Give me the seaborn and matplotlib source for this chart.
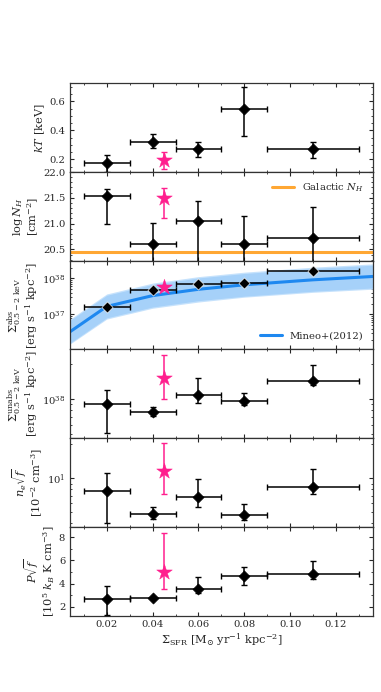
import numpy as np
import pandas as pd
import matplotlib
matplotlib.use("Agg")
import matplotlib.pyplot as plt
from matplotlib.ticker import NullFormatter, AutoMinorLocator
import seaborn as sns

# ── Data ──────────────────────────────────────
sfr = [0.02, 0.04, 0.06, 0.08, 0.11]
sfr_err = [0.01, 0.01, 0.01, 0.01, 0.02]
star_sfr = [0.045]

kT = [0.172, 0.32, 0.27, 0.55, 0.27]
kT_lo = [0.06, 0.04, 0.055, 0.19, 0.06]
kT_hi = [0.058, 0.052, 0.047, 0.15, 0.05]
star_kT, star_kT_lo, star_kT_hi = [0.195], [0.06], [0.057]

logNH = [21.54, 20.60, 21.05, 20.60, 20.73]
logNH_lo = [0.54, 0.5, 0.8, 0.5, 0.6]
logNH_hi = [0.13, 0.41, 0.38, 0.54, 0.60]
star_NH, star_NH_lo, star_NH_hi = [21.5], [0.40], [0.19]
galactic_NH = 20.44

sig_abs = [1.63e37, 4.7e37, 7.2e37, 7.5e37, 1.56e38]
star_abs = [5.8e37]

mineo_x = [0.004, 0.02, 0.04, 0.06, 0.08, 0.11, 0.136]
mineo_y = [3.3e36, 1.66e37, 3.32e37, 4.98e37, 6.64e37, 9.13e37, 1.13e38]
mineo_up_out = [7.4e36, 3.7e37, 7.4e37, 1.12e38, 1.49e38, 2.05e38, 2.53e38]
mineo_lo_out = [1.5e36, 7.4e36, 1.48e37, 2.2e37, 3.0e37, 4.1e37, 5.0e37]
mineo_up_in = [6.8e36, 3.4e37, 6.8e37, 1.03e38, 1.37e38, 1.88e38, 2.33e38]
mineo_lo_in = [1.6e36, 8.0e36, 1.6e37, 2.4e37, 3.2e37, 4.4e37, 5.4e37]

sig_unabs = [9.06e37, 7.73e37, 1.09e38, 9.67e37, 1.45e38]
sig_unabs_lo = [3.96e37, 0.55e37, 1.55e37, 0.74e37, 0.12e38]
sig_unabs_hi = [2.9e37, 0.9e37, 0.44e38, 1.6e37, 0.54e38]
star_unabs, star_unabs_lo, star_unabs_hi = [1.53e38], [0.53e38], [0.91e38]

ne = [7.76, 4.83, 6.79, 4.71, 8.32]
ne_lo = [3.71, 0.49, 1.18, 0.43, 1.06]
ne_hi = [3.31, 0.70, 3.01, 1.22, 3.68]
star_ne, star_ne_lo, star_ne_hi = [11.6], [4.4], [8.8]

P = [2.66, 2.77, 3.57, 4.66, 4.80]
P_lo = [1.33, 0.12, 0.34, 0.76, 0.37]
P_hi = [1.11, 0.12, 1.00, 0.77, 1.17]
star_P, star_P_lo, star_P_hi = [5.0], [1.43], [3.4]

# ── Style ─────────────────────────────────────
sns.set_style("ticks")
plt.rcParams["font.family"] = ["DejaVu Serif"]
plt.rcParams["mathtext.fontset"] = "dejavuserif"
plt.rcParams.update({
    "xtick.direction": "in", "ytick.direction": "in",
    "xtick.top": True, "ytick.right": True,
    "xtick.minor.visible": True, "ytick.minor.visible": True,
    "xtick.labelsize": 7.2, "ytick.labelsize": 7.2,
    "axes.labelsize": 8.2, "axes.labelpad": 1.5,
    "axes.edgecolor": "#333333", "axes.linewidth": 0.9,
    "xtick.major.size": 3, "ytick.major.size": 3,
    "xtick.minor.size": 1.6, "ytick.minor.size": 1.6,
})

PINK = "#ff1f8e"
BLUE = "#1e88f0"
LBL = dict(linespacing=1.0)

fig, axes = plt.subplots(6, 1, figsize=(3.81, 6.92), dpi=100, sharex=True)
fig.subplots_adjust(left=0.184, right=0.978, top=0.8796, bottom=0.1105, hspace=0)


def draw_points(ax, y, ylo, yhi, sy, sylo, syhi):
    ax.errorbar(sfr, y, xerr=sfr_err, yerr=[ylo, yhi], fmt="none",
                ecolor="black", elinewidth=1.1, capsize=2, capthick=1.0, zorder=3)
    sns.scatterplot(x=sfr, y=y, ax=ax, marker="D", s=32, color="black",
                    edgecolor="black", zorder=4)
    if sy is not None:
        ax.errorbar(star_sfr, sy, yerr=[sylo, syhi], fmt="none",
                    ecolor=PINK, elinewidth=1.1, capsize=2, capthick=1.0, zorder=3)
        sns.scatterplot(x=star_sfr, y=sy, ax=ax, marker="*", s=140, color=PINK,
                        edgecolor=PINK, linewidth=0.3, zorder=5)


# 1 — kT
ax = axes[0]
draw_points(ax, kT, kT_lo, kT_hi, star_kT, star_kT_lo, star_kT_hi)
ax.set_ylim(0.112, 0.724)
ax.set_ylabel(r"$kT$ [keV]", **LBL)
ax.yaxis.set_minor_locator(AutoMinorLocator(4))

# 2 — log NH
ax = axes[1]
ax.axhline(galactic_NH, color="#ffa733", lw=2.2, label=r"Galactic $N_H$", zorder=2)
draw_points(ax, logNH, logNH_lo, logNH_hi, star_NH, star_NH_lo, star_NH_hi)
ax.set_ylim(20.28, 22.0)
ax.set_ylabel(r"$\log N_H$" + "\n" + r"[cm$^{-2}$]", **LBL)
ax.legend(loc="upper right", frameon=False, fontsize=7.2, handlelength=2.2)
ax.yaxis.set_minor_locator(AutoMinorLocator(5))

# 3 — Sigma abs
ax = axes[2]
ax.set_yscale("log")
ax.fill_between(mineo_x, mineo_lo_out, mineo_up_out, color="#c6e2fc", lw=0, zorder=1)
ax.fill_between(mineo_x, mineo_lo_in, mineo_up_in, color="#a6d1f9", lw=0, zorder=1)
sns.lineplot(x=mineo_x, y=mineo_y, ax=ax, color=BLUE, lw=2.2, label="Mineo+(2012)", zorder=2)
ax.errorbar(sfr, sig_abs, xerr=sfr_err, fmt="none", ecolor="black",
            elinewidth=1.1, capsize=2, capthick=1.0, zorder=3)
sns.scatterplot(x=sfr, y=sig_abs, ax=ax, marker="D", s=32, color="black", zorder=4)
sns.scatterplot(x=star_sfr, y=star_abs, ax=ax, marker="*", s=140, color=PINK,
                edgecolor=PINK, linewidth=0.3, zorder=5)
ax.set_ylim(1.06e36, 3.1e38)
ax.set_ylabel(r"$\Sigma^{\rm abs}_{0.5-2\ \rm keV}$" + "\n" + r"[erg s$^{-1}$ kpc$^{-2}$]", **LBL)
ax.legend(loc="lower right", frameon=False, fontsize=7.2, handlelength=2.2)
ax.yaxis.set_minor_formatter(NullFormatter())

# 4 — Sigma unabs
ax = axes[3]
ax.set_yscale("log")
draw_points(ax, sig_unabs, sig_unabs_lo, sig_unabs_hi, star_unabs, star_unabs_lo, star_unabs_hi)
ax.set_ylim(4.6e37, 2.7e38)
ax.set_ylabel(r"$\Sigma^{\rm unabs}_{0.5-2\ \rm keV}$" + "\n" + r"[erg s$^{-1}$ kpc$^{-2}$]", **LBL)
ax.yaxis.set_minor_formatter(NullFormatter())

# 5 — ne sqrt(f)
ax = axes[4]
ax.set_yscale("log")
draw_points(ax, ne, ne_lo, ne_hi, star_ne, star_ne_lo, star_ne_hi)
ax.set_ylim(3.72, 22.7)
ax.set_ylabel(r"$n_e\sqrt{f}$" + "\n" + r"[10$^{-2}$ cm$^{-3}$]", **LBL)
ax.yaxis.set_minor_formatter(NullFormatter())

# 6 — P sqrt(f)
ax = axes[5]
draw_points(ax, P, P_lo, P_hi, star_P, star_P_lo, star_P_hi)
ax.set_ylim(1.25, 8.9)
ax.set_yticks([2, 4, 6, 8])
ax.yaxis.set_minor_locator(AutoMinorLocator(2))
ax.set_ylabel(r"$P\sqrt{f}$" + "\n" + r"[10$^5$ $k_B$ K cm$^{-3}$]", **LBL)
ax.set_xlabel(r"$\Sigma_{\rm SFR}$ [M$_{\odot}$ yr$^{-1}$ kpc$^{-2}$]")

for ax in axes:
    ax.set_xlim(0.004, 0.136)
    ax.xaxis.set_minor_locator(AutoMinorLocator(2))
    ax.tick_params(which="both", top=True, right=True, direction="in")

fig.savefig("out.png", dpi=100, facecolor="white")
